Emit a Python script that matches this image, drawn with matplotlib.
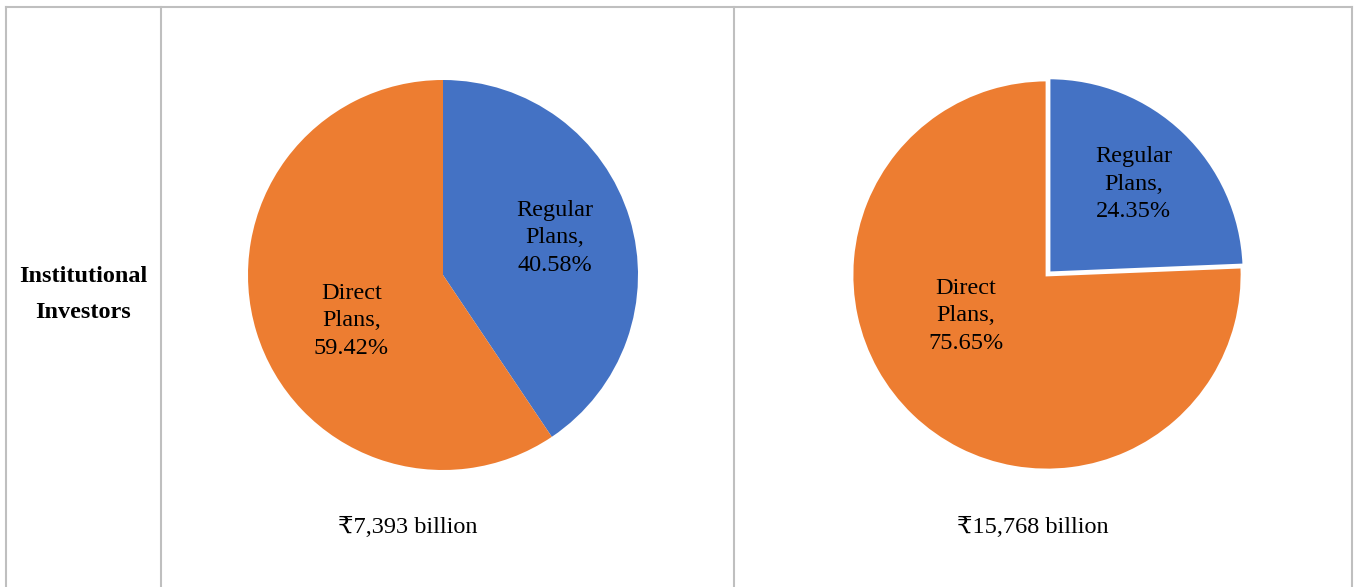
import matplotlib
matplotlib.use("Agg")
import matplotlib.pyplot as plt
from matplotlib.lines import Line2D

W, H = 1357, 587
FONT = ["Liberation Serif", "DejaVu Serif"]

row_label = "Institutional\nInvestors"
slice_names = ["Regular\nPlans,", "Direct\nPlans,"]
colors = ["#4472C4", "#ED7D31"]

left_values = [40.58, 59.42]
left_total = "₹7,393 billion"
right_values = [24.35, 75.65]
right_total = "₹15,768 billion"

grid_color = "#BFBFBF"
fs = 17.5


def px_axes(fig, x0, y0, w, h):
    # pixel box (top-left origin) -> figure axes
    return fig.add_axes([x0 / W, 1 - (y0 + h) / H, w / W, h / H])


def draw_pie(ax, values, explode, edge, label_pos):
    wedges, _ = ax.pie(
        values,
        colors=colors,
        startangle=90,
        counterclock=False,
        explode=explode,
        radius=1.0,
        wedgeprops=dict(linewidth=edge, edgecolor="white"),
    )
    for w in wedges:
        w.set_clip_on(False)
    for name, val, (x, y) in zip(slice_names, values, label_pos):
        ax.text(x, y, f"{name}\n{val:.2f}%", ha="center", va="center",
                fontsize=fs, family=FONT, linespacing=1.4)
    ax.set_xlim(-1, 1)
    ax.set_ylim(-1, 1)
    ax.set_aspect("equal")
    ax.axis("off")


fig = plt.figure(figsize=(W / 100, H / 100), dpi=100)

ax_left = px_axes(fig, 248, 80, 390, 390)
draw_pie(ax_left, left_values, [0, 0], 0, [(0.575, 0.19), (-0.47, -0.235)])

ax_right = px_axes(fig, 852, 80, 390, 390)
draw_pie(ax_right, right_values, [0.015, 0], 2.0, [(0.445, 0.465), (-0.415, -0.21)])

fig.text(408 / W, 1 - 527 / H, left_total, ha="center", va="center",
         fontsize=fs, family=FONT)
fig.text(1033 / W, 1 - 527 / H, right_total, ha="center", va="center",
         fontsize=fs, family=FONT)
fig.text(83 / W, 1 - 294.5 / H, row_label, ha="center", va="center",
         fontsize=fs, family=FONT, fontweight="bold", linespacing=2.0)

# table grid lines
lw = 1.5
for x in (6, 161, 734, 1352):
    fig.add_artist(Line2D([x / W, x / W], [0, 1 - 7 / H], color=grid_color, linewidth=lw))
fig.add_artist(Line2D([6 / W, 1352 / W], [1 - 7 / H, 1 - 7 / H], color=grid_color, linewidth=lw))

fig.savefig("out.png", dpi=100)
